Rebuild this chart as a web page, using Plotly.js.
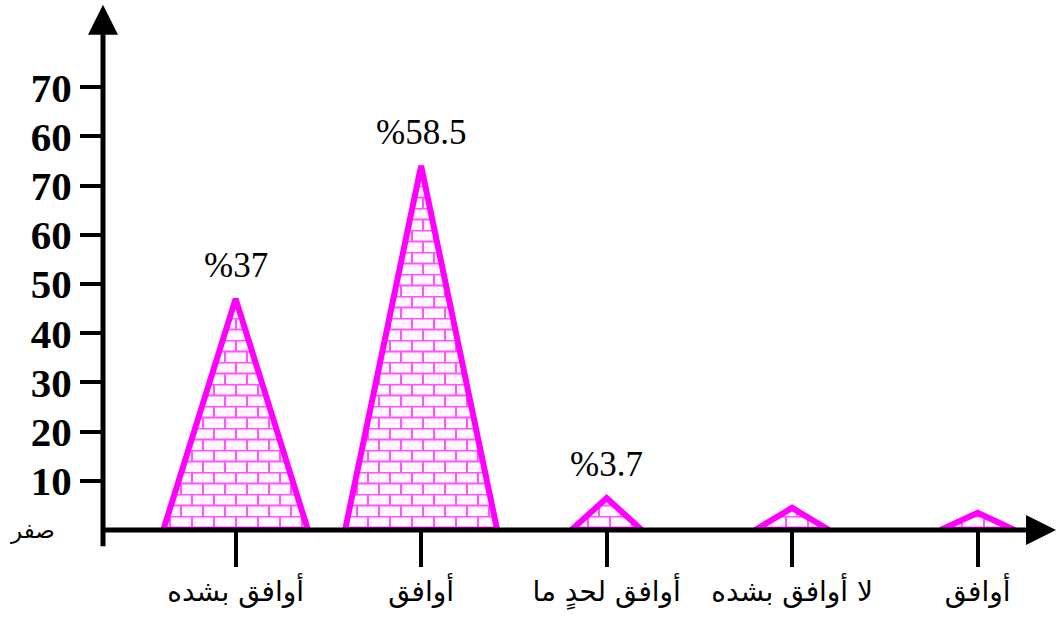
<!DOCTYPE html>
<html><head><meta charset="utf-8">
<script src="https://cdn.plot.ly/plotly-3.0.1.min.js"></script>
<style>html,body{margin:0;padding:0;background:#fff}#chart{width:1057px;height:619px}</style>
</head><body><div id="chart"></div>
<script>
// ---- data ----
const categories = ["أوافق بشده", "أوافق", "أوافق لحدٍ ما", "لا أوافق بشده", "أوافق"];
const heights = [47, 74, 6.5, 4.5, 3.5];          // pyramid apex, in axis units as drawn
const valueLabels = ["%37", "%58.5", "%3.7", "", ""];
const yTickVals = [10, 20, 30, 40, 50, 60, 70, 80, 90];
const yTickText = ["10", "20", "30", "40", "50", "60", "70", "60", "70"];
const zeroLabel = "صفر";

// ---- styles ----
const halfWidths = [0.39, 0.41, 0.19, 0.20, 0.20];
const MAGENTA = "#ff00ff";
const ARABIC = "DejaVu Sans, Noto Sans, sans-serif";
const SERIF = "Liberation Serif, Times New Roman, serif";

const traces = categories.map((c, i) => ({
  type: "scatter",
  mode: "lines",
  x: [i - halfWidths[i], i, i + halfWidths[i], i - halfWidths[i]],
  y: [0, heights[i], 0, 0],
  fill: "toself",
  fillcolor: "white",
  fillpattern: {shape: "+", fgcolor: "#ff55ff", bgcolor: "#fff6ff", size: 11, solidity: 0.3},
  line: {color: MAGENTA, width: 6},
  hoverinfo: "skip",
  showlegend: false
}));

const annotations = categories.map((c, i) => ({
  x: i, y: heights[i], xref: "x", yref: "y",
  text: valueLabels[i], showarrow: false,
  yanchor: "bottom", yshift: 12,
  font: {family: SERIF, size: 35, color: "#000"}
})).filter(a => a.text !== "");

// axis arrows
annotations.push({
  x: 0, y: 1.01, xref: "paper", yref: "paper", text: "",
  showarrow: true, ax: 0, ay: 543, axref: "pixel", ayref: "pixel",
  arrowhead: 2, arrowsize: 1.2, arrowwidth: 5, arrowcolor: "#000"
});
annotations.push({
  x: 1.008, y: 0, xref: "paper", yref: "paper", text: "",
  showarrow: true, ax: -957, ay: 0,
  arrowhead: 2, arrowsize: 1.2, arrowwidth: 5, arrowcolor: "#000"
});
annotations.push({
  x: -0.074, y: 0, xref: "paper", yref: "y", text: zeroLabel, showarrow: false,
  xanchor: "center", yanchor: "middle",
  font: {family: ARABIC, size: 23, color: "#000"}
});

const layout = {
  width: 1057, height: 619,
  margin: {l: 103, r: 8, t: 10, b: 89},
  paper_bgcolor: "#fff", plot_bgcolor: "#fff",
  xaxis: {
    range: [-0.715, 4.385], tickmode: "array", tickvals: categories.map((c, i) => i),
    ticktext: categories, ticks: "outside", ticklen: 36, tickwidth: 4, tickcolor: "#000",
    tickfont: {family: ARABIC, size: 28, color: "#000"},
    showgrid: false, zeroline: false, showline: false, fixedrange: true
  },
  yaxis: {
    range: [0, 105.7], tickmode: "array", tickvals: yTickVals, ticktext: yTickText,
    ticks: "outside", ticklen: 22, tickwidth: 4, tickcolor: "#000",
    tickfont: {family: SERIF, size: 41, color: "#000", weight: "bold"},
    showgrid: false, zeroline: false, showline: false, fixedrange: true
  },
  annotations: annotations,
  showlegend: false
};

Plotly.newPlot("chart", traces, layout, {displayModeBar: false, staticPlot: true}).then(gd => {
  // turn the grid texture into a brick texture
  gd.querySelectorAll("pattern").forEach(p => {
    const W = 22, H = 22;
    p.setAttribute("width", W);
    p.setAttribute("height", H);
    const rect = p.querySelector("rect");
    if (rect) { rect.setAttribute("width", W); rect.setAttribute("height", H); }
    const path = p.querySelector("path");
    if (path) {
      path.setAttribute("d", "M0,0.5H22M0,11.5H22M1,0V11.5M12,11.5V22");
      path.style.strokeWidth = "2px";
    }
  });
});
</script></body></html>
